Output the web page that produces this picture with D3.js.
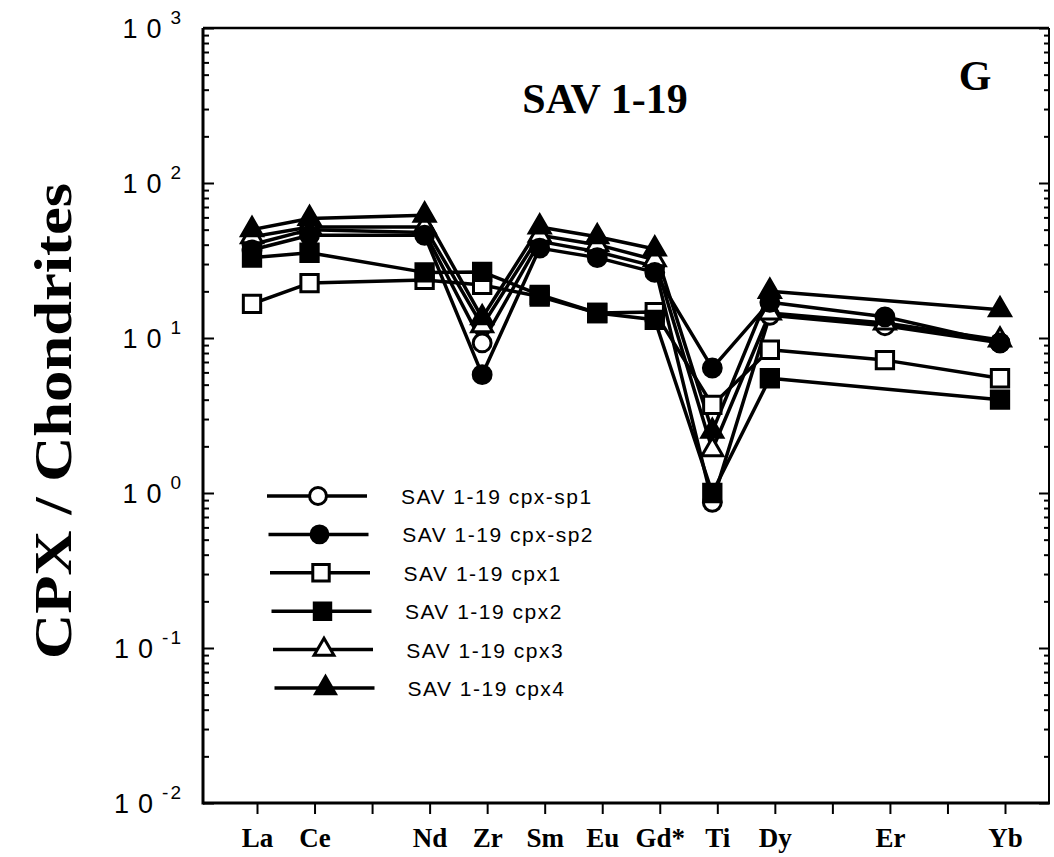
<!DOCTYPE html>
<html>
<head>
<meta charset="utf-8">
<script src="https://cdn.jsdelivr.net/npm/d3@7"></script>
<style>
  body { margin: 0; background: #fff; }
  svg { display: block; }
</style>
</head>
<body>
<svg width="1054" height="857"></svg>
<script>
// elementos en el eje X (Pr, Ho y Tm sin etiqueta)
const elements = ["La", "Ce", "Pr", "Nd", "Zr", "Sm", "Eu", "Gd*", "Ti", "Dy", "Ho", "Er", "Tm", "Yb"];
const tickLabels = ["La", "Ce", "", "Nd", "Zr", "Sm", "Eu", "Gd*", "Ti", "Dy", "", "Er", "", "Yb"];

// valores normalizados a condritas (null = sin dato)
const cpxSp1 = [40, 50, null, 48, 9.3, 42, 36, 29, 0.87, 14, null, 12, null, 9.3];
const cpxSp2 = [37, 46, null, 46, 5.8, 38, 33, 26.5, 6.4, 17, null, 13.7, null, 9.3];
const cpx1   = [16.6, 22.6, null, 23.7, 22, 18.5, 14.5, 14.7, 3.7, 8.4, null, 7.2, null, 5.5];
const cpx2   = [33, 35.5, null, 26.5, 26.7, 19, 14.5, 13.1, 1.0, 5.5, null, null, null, 4.0];
const cpx3   = [45, 52, null, 52, 12, 46, 40, 32, 1.9, 14.5, null, 12.5, null, 9.7];
const cpx4   = [50, 59, null, 62, 13.5, 52, 45, 37.5, 2.5, 20, null, null, null, 15.2];

const seriesNames = ["SAV 1-19 cpx-sp1", "SAV 1-19 cpx-sp2", "SAV 1-19 cpx1",
                     "SAV 1-19 cpx2", "SAV 1-19 cpx3", "SAV 1-19 cpx4"];
const yTickExps = [3, 2, 1, 0, -1, -2];

const series = [
  { name: seriesNames[0], values: cpxSp1, shape: d3.symbolCircle,   filled: false },
  { name: seriesNames[1], values: cpxSp2, shape: d3.symbolCircle,   filled: true },
  { name: seriesNames[2], values: cpx1,   shape: d3.symbolSquare,   filled: false },
  { name: seriesNames[3], values: cpx2,   shape: d3.symbolSquare,   filled: true },
  { name: seriesNames[4], values: cpx3,   shape: d3.symbolTriangle, filled: false },
  { name: seriesNames[5], values: cpx4,   shape: d3.symbolTriangle, filled: true }
];

const svg = d3.select("svg");
const plot = { left: 203, right: 1049, top: 28, bottom: 803 };

const x = d3.scaleLinear().domain([0, elements.length - 1]).range([252, 1000]);
const y = d3.scaleLog().domain([1e-2, 1e3]).range([plot.bottom, plot.top]);
const tickShift = 5; // las marcas del eje están algo desplazadas respecto a los puntos

const symbolSize = s => s === d3.symbolSquare ? 300 : (s === d3.symbolCircle ? 250 : 190);
const serif = "'Liberation Serif', 'Times New Roman', serif";
const sans = "'Liberation Sans', Arial, sans-serif";

// marcas menores y mayores del eje logarítmico
const minorTicks = [];
for (let e = -2; e < 3; e++) {
  for (let m = 2; m <= 9; m++) minorTicks.push(m * Math.pow(10, e));
}
const majorTicks = yTickExps.map(e => Math.pow(10, e));

function styleAxis(g) {
  g.select(".domain").remove();
  g.selectAll(".tick line").attr("stroke", "#000").attr("stroke-width", 2);
}

// eje izquierdo (marcas hacia dentro)
svg.append("g").attr("transform", `translate(${plot.left},0)`)
  .call(d3.axisRight(y).tickValues(minorTicks).tickSize(6).tickFormat(""))
  .call(styleAxis);
svg.append("g").attr("transform", `translate(${plot.left},0)`)
  .call(d3.axisRight(y).tickValues(majorTicks).tickSize(11).tickFormat(""))
  .call(styleAxis);

// eje derecho (marcas hacia dentro)
svg.append("g").attr("transform", `translate(${plot.right},0)`)
  .call(d3.axisLeft(y).tickValues(minorTicks).tickSize(5).tickFormat(""))
  .call(styleAxis);
svg.append("g").attr("transform", `translate(${plot.right},0)`)
  .call(d3.axisLeft(y).tickValues(majorTicks).tickSize(10).tickFormat(""))
  .call(styleAxis);

// eje inferior con los elementos
const xAxis = svg.append("g").attr("transform", `translate(${tickShift},${plot.bottom})`)
  .call(d3.axisBottom(x).tickValues(d3.range(elements.length)).tickSize(11).tickPadding(14)
    .tickFormat(i => tickLabels[i]))
  .call(styleAxis);
xAxis.selectAll("text")
  .attr("font-family", serif).attr("font-weight", "bold").attr("font-size", 27).attr("fill", "#000");

// marco
svg.append("line").attr("x1", plot.left).attr("x2", plot.left).attr("y1", plot.top).attr("y2", plot.bottom + 1.5)
  .attr("stroke", "#000").attr("stroke-width", 3);
svg.append("line").attr("x1", plot.left).attr("x2", plot.right + 1).attr("y1", plot.bottom).attr("y2", plot.bottom)
  .attr("stroke", "#000").attr("stroke-width", 3);
svg.append("line").attr("x1", plot.left).attr("x2", plot.right).attr("y1", plot.top).attr("y2", plot.top)
  .attr("stroke", "#000").attr("stroke-width", 2.5);
svg.append("line").attr("x1", plot.right).attr("x2", plot.right).attr("y1", plot.top).attr("y2", plot.bottom)
  .attr("stroke", "#000").attr("stroke-width", 2);

// etiquetas del eje Y: 10 con exponente
const yLabels = svg.append("g").selectAll("text").data(yTickExps).join("text")
  .attr("x", 183)
  .attr("y", e => y(Math.pow(10, e)) + 10)
  .attr("text-anchor", "end")
  .attr("font-family", sans)
  .attr("fill", "#000");
yLabels.append("tspan").attr("font-size", 27).attr("letter-spacing", 9).text("10");
yLabels.append("tspan").attr("font-size", 19).attr("dy", -14).attr("letter-spacing", 2).text(e => String(e));

// título del eje Y
svg.append("text")
  .attr("transform", "translate(71,421) rotate(-90)")
  .attr("text-anchor", "middle")
  .attr("font-family", serif).attr("font-weight", "bold").attr("font-size", 52)
  .attr("textLength", 476).attr("lengthAdjust", "spacingAndGlyphs")
  .text("CPX / Chondrites");

// títulos
svg.append("text").attr("x", 605).attr("y", 113).attr("text-anchor", "middle")
  .attr("font-family", serif).attr("font-weight", "bold").attr("font-size", 42)
  .text("SAV 1-19");
svg.append("text").attr("x", 975).attr("y", 90).attr("text-anchor", "middle")
  .attr("font-family", serif).attr("font-weight", "bold").attr("font-size", 42)
  .text("G");

// líneas de las series (se omiten los puntos sin dato)
const line = d3.line().x(d => x(d.i)).y(d => y(d.v));
const points = s => s.values.map((v, i) => ({ i, v })).filter(d => d.v != null);

svg.append("g").selectAll("path").data(series).join("path")
  .attr("d", s => line(points(s)))
  .attr("fill", "none")
  .attr("stroke", "#000")
  .attr("stroke-width", 3.5)
  .attr("stroke-linejoin", "round");

// marcadores: primero los huecos, luego los rellenos
const ordered = series.filter(s => !s.filled).concat(series.filter(s => s.filled));
ordered.forEach(s => {
  svg.append("g").selectAll("path").data(points(s)).join("path")
    .attr("transform", d => `translate(${x(d.i)},${y(d.v)})`)
    .attr("d", d3.symbol().type(s.shape).size(symbolSize(s.shape)))
    .attr("fill", s.filled ? "#000" : "#fff")
    .attr("stroke", "#000")
    .attr("stroke-width", 3);
});

// leyenda
const legend = svg.append("g").selectAll("g").data(series).join("g")
  .attr("transform", (s, i) => `translate(0,${496 + i * 38.4})`);
legend.append("line").attr("x1", (s, i) => 267 + i * 1.5).attr("x2", (s, i) => 367 + i * 1.5)
  .attr("y1", 0).attr("y2", 0).attr("stroke", "#000").attr("stroke-width", 3.5);
legend.append("path")
  .attr("transform", (s, i) => `translate(${318 + i * 1.5},0)`)
  .attr("d", s => d3.symbol().type(s.shape).size(symbolSize(s.shape) * 0.9)())
  .attr("fill", s => s.filled ? "#000" : "#fff")
  .attr("stroke", "#000").attr("stroke-width", 3);
legend.append("text")
  .attr("x", (s, i) => 401 + i * 1.3).attr("y", 8)
  .attr("font-family", sans).attr("font-size", 21).attr("letter-spacing", 1.5)
  .text(s => s.name);
</script>
</body>
</html>
